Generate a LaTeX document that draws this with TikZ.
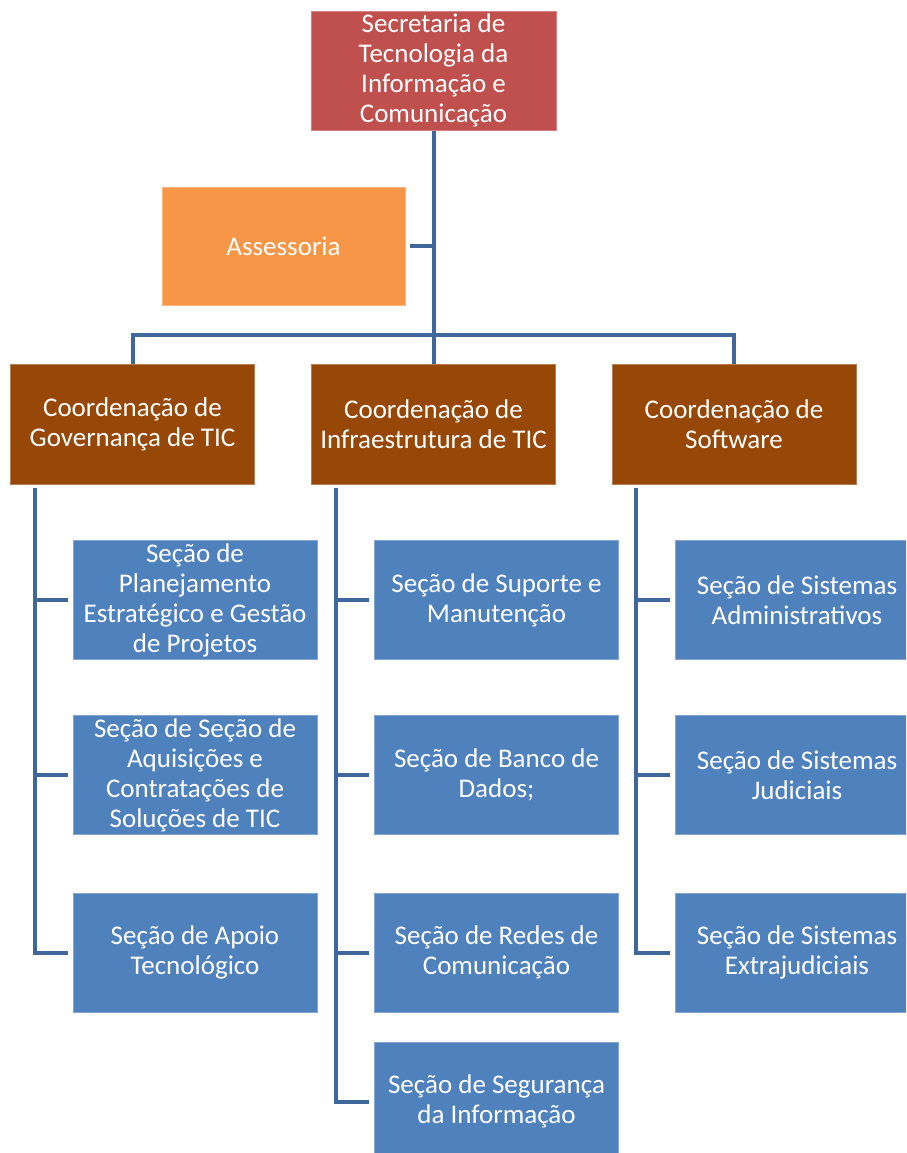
\documentclass[tikz,border=0pt]{standalone}
\usepackage{fontspec}
\setmainfont{Carlito}
\definecolor{topred}{HTML}{C0504D}
\definecolor{assor}{HTML}{F79646}
\definecolor{coordbr}{HTML}{974806}
\definecolor{secblue}{HTML}{4F81BD}
\definecolor{connblue}{HTML}{3F679C}
\begin{document}
\begin{tikzpicture}[x=1pt,y=1pt,
  box/.style={rectangle, inner sep=0pt, align=center, text=white,
    font=\fontsize{27}{30}\selectfont, line width=0.8pt},
  topbox/.style={box, fill=topred, draw=topred!70!white, minimum width=245pt, minimum height=119pt},
  assbox/.style={box, fill=assor, draw=assor!70!white, minimum width=243pt, minimum height=118pt},
  coordbox/.style={box, fill=coordbr, draw=coordbr!70!white, minimum width=244pt, minimum height=120pt},
  secbox/.style={box, fill=secblue, draw=secblue!70!white, minimum width=244pt, minimum height=119pt},
  conn/.style={draw=connblue, line width=4pt}]
\clip (0,0) rectangle (906,-1153);
\fill[white] (0,0) rectangle (906,-1153);

\node[topbox] (top) at (433.5,-70.5) {Secretaria de\\Tecnologia da\\Informação e\\Comunicação};
\node[assbox] (ass) at (283.5,-246) {Assessoria};

\node[coordbox] (c1) at (132.5,-424) {Coordenação de\\Governança de TIC};
\node[coordbox] (c2) at (433.5,-424) {Coordenação de\\Infraestrutura de TIC};
\node[coordbox] (c3) at (734,-424) {Coordenação de\\Software};

\node[secbox] (s11) at (195,-600) {Seção de\\Planejamento\\Estratégico e Gestão\\de Projetos};
\node[secbox] (s12) at (195,-775) {Seção de Seção de\\Aquisições e\\Contratações de\\Soluções de TIC};
\node[secbox] (s13) at (195,-952.5) {Seção de Apoio\\Tecnológico};

\node[secbox] (s21) at (496.5,-600) {Seção de Suporte e\\Manutenção};
\node[secbox] (s22) at (496.5,-775) {Seção de Banco de\\Dados;};
\node[secbox] (s23) at (496.5,-952.5) {Seção de Redes de\\Comunicação};
\node[secbox] (s24) at (496.5,-1101.5) {Seção de Segurança\\da Informação};

\node[secbox] (s31) at (797,-600) {Seção de Sistemas\\Administrativos};
\node[secbox] (s32) at (797,-775) {Seção de Sistemas\\Judiciais};
\node[secbox] (s33) at (797,-952.5) {Seção de Sistemas\\Extrajudiciais};

% top-level connectors
\coordinate (hub) at (433.5,-335);
\draw[conn, shorten <=1pt] (top.south) -- (c2.north);
\draw[conn] (c1.north) -- (c1.north |- hub) -- (c3.north |- hub) -- (c3.north);
\draw[conn, shorten <=5pt] (ass.east) -- (ass.east -| top.south);

% column connectors
\coordinate (v1) at ([xshift=-98pt,yshift=-4pt]c1.south);
\coordinate (v2) at ([xshift=-98pt,yshift=-4pt]c2.south);
\coordinate (v3) at ([xshift=-98pt,yshift=-4pt]c3.south);

\draw[conn, line join=miter] (v1) |- ([xshift=-5pt]s13.west);
\draw[conn] (v1 |- s11.west) -- ([xshift=-5pt]s11.west);
\draw[conn] (v1 |- s12.west) -- ([xshift=-5pt]s12.west);

\draw[conn, line join=miter] (v2) |- ([xshift=-5pt]s24.west);
\draw[conn] (v2 |- s21.west) -- ([xshift=-5pt]s21.west);
\draw[conn] (v2 |- s22.west) -- ([xshift=-5pt]s22.west);
\draw[conn] (v2 |- s23.west) -- ([xshift=-5pt]s23.west);

\draw[conn, line join=miter] (v3) |- ([xshift=-5pt]s33.west);
\draw[conn] (v3 |- s31.west) -- ([xshift=-5pt]s31.west);
\draw[conn] (v3 |- s32.west) -- ([xshift=-5pt]s32.west);
\end{tikzpicture}
\end{document}
